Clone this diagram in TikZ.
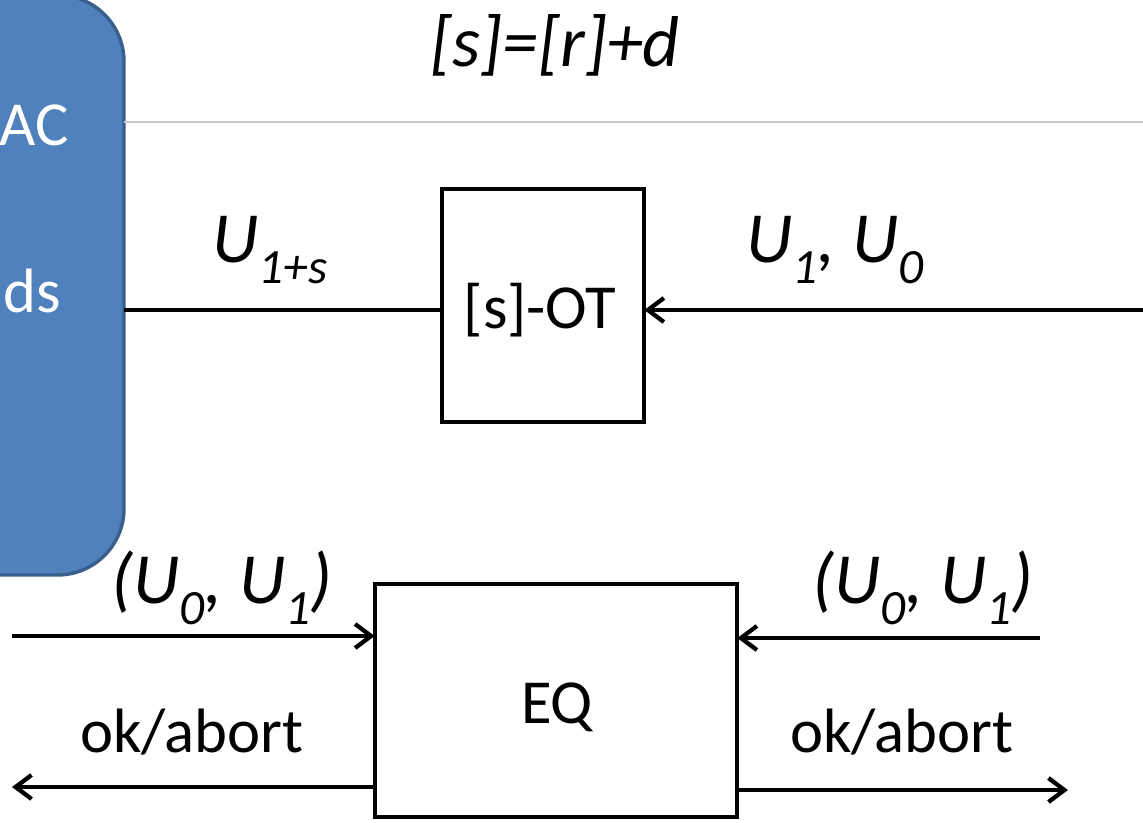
\documentclass[tikz,border=0pt]{standalone}
\usepackage{fontspec}
\setmainfont{Carlito}
\usetikzlibrary{arrows.meta}
\definecolor{macfill}{HTML}{4F81BD}
\definecolor{macedge}{HTML}{3A5F8D}
\definecolor{rulegray}{HTML}{C8C8C8}
\newcommand{\sbs}[1]{\raisebox{-0.3em}{\fontsize{37}{40}\selectfont #1}}
\begin{document}
\begin{tikzpicture}[x=0.75pt,y=-0.75pt,
  every node/.style={inner sep=0pt,outer sep=0pt},
  txt/.style={font=\fontsize{47}{52}\selectfont},
  itxt/.style={font=\fontsize{54}{60}\selectfont\itshape},
  wtxt/.style={font=\fontsize{47}{52}\selectfont,text=white},
  funcbox/.style={draw,line width=3.2pt,fill=white},
  conn/.style={line width=3.2pt},
  arr/.style={line width=3.2pt,-{Straight Barb[length=12pt,width=18pt,line width=3.2pt]}}
]
\useasboundingbox (0,0) rectangle (1143,822);
\clip (0,0) rectangle (1143,822);
% blue functionality box (mostly off-canvas)
\node[draw=macedge,fill=macfill,line width=2.6pt,rounded corners=50pt,
      minimum width=318pt,minimum height=435pt] (mac) at (-88,285) {};
\node[wtxt,anchor=base east] (ac) at (69,145) {AC};
\node[wtxt,anchor=base east] (ds) at (61,312) {ds};
% gray rule
\coordinate (rl) at (124,122);
\coordinate (rr) at (1143,122);
\draw[rulegray,line width=1.5pt] (rl) -- (rr);
\node[itxt,anchor=base] (eqn) at (555,66) {[s]=[r]+d};
% OT box
\node[funcbox,minimum width=152pt,minimum height=175pt] (ot) at (543,305.5) {};
\node[txt,anchor=base] (otl) at (540,328) {[s]-OT};
\coordinate (otin) at (1143,310);
\draw[conn] (mac.east |- 0,310) -- (ot.west |- 0,310);
\draw[arr] (otin) -- (ot.east |- otin);
\node[itxt,anchor=base] (u1s) at (270,262) {U\sbs{1+s}};
\node[itxt,anchor=base] (u10) at (835,262) {U\sbs{1}, U\sbs{0}};
% EQ box
\node[funcbox,minimum width=272pt,minimum height=175pt] (eq) at (556,700.5) {};
\node[txt,anchor=base] (eql) at (557,723) {EQ};
\coordinate (lin) at (12,636);
\coordinate (lout) at (12,787);
\coordinate (rin) at (1040,638);
\coordinate (rout) at (1068,790);
\draw[arr] (lin) -- (eq.west |- lin);
\draw[arr] (eq.west |- lout) -- (lout);
\draw[arr] (rin) -- (eq.east |- rin);
\draw[arr] (eq.east |- rout) -- (rout);
\node[itxt,anchor=base] (lpair) at (222,603) {(U\sbs{0}, U\sbs{1})};
\node[itxt,anchor=base] (rpair) at (923,603) {(U\sbs{0}, U\sbs{1})};
\node[txt,anchor=base] (lok) at (192,752) {ok/abort};
\node[txt,anchor=base] (rok) at (902,752) {ok/abort};
\end{tikzpicture}
\end{document}
